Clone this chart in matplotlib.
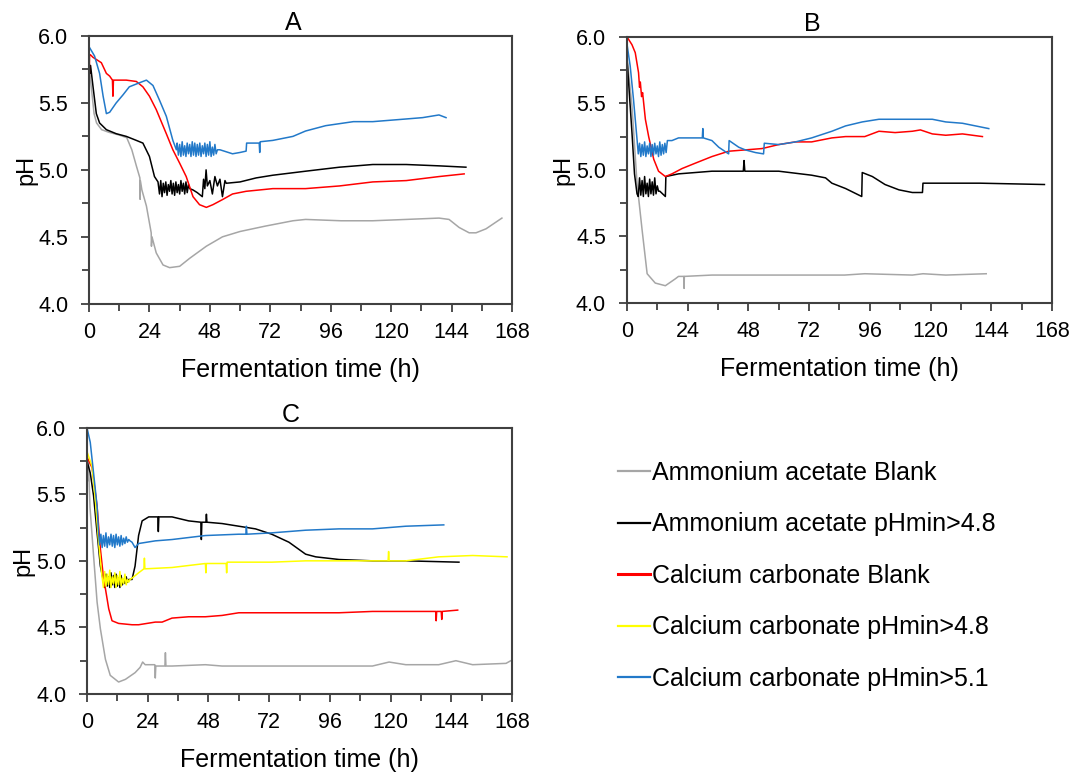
import numpy as np
import matplotlib.pyplot as plt
from matplotlib.lines import Line2D
from matplotlib.ticker import MultipleLocator

plt.rcParams['font.family'] = ['Liberation Sans', 'DejaVu Sans']

labels = ['Ammonium acetate Blank', 'Ammonium acetate pHmin>4.8',
          'Calcium carbonate Blank', 'Calcium carbonate pHmin>4.8',
          'Calcium carbonate pHmin>5.1']
colors = ['#a6a6a6', '#000000', '#ff0000', '#ffff00', '#2279c9']

# ---- A ----
a_gray_t = [0, 1, 2, 3, 5, 8, 12, 15, 17, 18.8, 20.2, 20.3, 20.4, 21, 22.8, 24.7, 24.8, 25, 26.7, 29.4,
            32, 36, 40, 46.6, 53, 60, 70, 81, 86, 100, 112.7, 126, 139, 143, 147, 151, 153.7, 157.7, 164]
a_gray_v = [5.78, 5.6, 5.42, 5.35, 5.30, 5.28, 5.26, 5.24, 5.15, 5.03, 4.94, 4.78, 4.92, 4.85, 4.73, 4.53, 4.43, 4.50, 4.38, 4.29,
            4.27, 4.28, 4.34, 4.43, 4.50, 4.54, 4.58, 4.62, 4.63, 4.62, 4.62, 4.63, 4.64, 4.63, 4.57, 4.53, 4.53, 4.56, 4.64]

a_black_t1 = [0, 0.3, 0.6, 1.6, 2.9, 4.2, 6.9, 10.8, 14.8, 18.8, 21.4, 24, 26, 27.4]
a_black_v1 = [5.80, 5.72, 5.78, 5.62, 5.42, 5.35, 5.30, 5.27, 5.25, 5.22, 5.20, 5.10, 4.95, 4.91]
a_black_n = [4.82, 4.92, 4.80, 4.90, 4.83, 4.91, 4.81, 4.89, 4.84, 4.92, 4.82, 4.90, 4.81, 4.91, 4.83, 4.89,
             4.82, 4.92, 4.84, 4.90, 4.82, 4.91, 4.83, 4.89, 4.86]  # every 0.5 h from 28 h
a_black_t2 = [41.3, 43, 45, 45.5, 46, 46.5, 47, 48, 49, 50, 51, 52, 53, 54, 54.5, 60, 66.4, 73, 86, 99.5,
              112.7, 126, 139, 149.7]
a_black_v2 = [4.85, 4.83, 4.80, 4.93, 4.86, 5.00, 4.88, 4.92, 4.82, 4.95, 4.88, 4.93, 4.80, 4.92, 4.90, 4.91,
              4.94, 4.96, 4.99, 5.02, 5.04, 5.04, 5.03, 5.02]

a_red_t = [0, 0.2, 0.5, 1.6, 4.9, 6.9, 8.2, 9.3, 9.5, 9.7, 14.8, 18.8, 21.4, 24, 26.7, 30.7, 33.3, 36, 38.6, 41.3,
           43.9, 46.6, 49.2, 53.2, 57, 62.4, 73, 86, 99.5, 112.7, 126, 139, 149]
a_red_v = [5.55, 5.85, 5.86, 5.84, 5.80, 5.72, 5.70, 5.67, 5.55, 5.67, 5.67, 5.66, 5.62, 5.55, 5.45, 5.27, 5.15, 5.05, 4.95, 4.80,
           4.74, 4.72, 4.74, 4.78, 4.82, 4.84, 4.86, 4.86, 4.88, 4.91, 4.92, 4.95, 4.97]

a_blue_t1 = [0, 2.2, 4.2, 5.6, 6.9, 8.2, 10.8, 13.5, 16, 20, 22.8, 25.4, 28, 30.7, 33.3, 34.7]
a_blue_v1 = [5.92, 5.85, 5.72, 5.55, 5.42, 5.43, 5.50, 5.56, 5.62, 5.65, 5.67, 5.63, 5.52, 5.40, 5.22, 5.15]
a_blue_n = [5.20, 5.11, 5.19, 5.10, 5.21, 5.11, 5.18, 5.10, 5.20, 5.12, 5.19, 5.10, 5.21, 5.11, 5.20, 5.10,
            5.19, 5.11, 5.20, 5.10, 5.18, 5.12, 5.20, 5.10, 5.19, 5.11, 5.21, 5.10, 5.17, 5.11, 5.19, 5.12, 5.15]  # from 35 h
a_blue_t2 = [52, 57, 60, 62.4, 62.6, 67.6, 67.8, 68, 73, 81, 86, 94, 105, 112.7, 126, 132.5, 139, 141.8]
a_blue_v2 = [5.15, 5.12, 5.13, 5.14, 5.20, 5.20, 5.13, 5.21, 5.22, 5.25, 5.29, 5.33, 5.36, 5.36, 5.38, 5.39, 5.41, 5.39]

# ---- B ----
b_gray_t = [0, 2, 4, 6, 8, 11.2, 15.2, 19, 20.4, 22.5, 22.6, 22.7, 33.6, 60, 86, 94, 112.8, 117, 126, 142]
b_gray_v = [5.85, 5.48, 4.90, 4.55, 4.22, 4.15, 4.13, 4.18, 4.20, 4.20, 4.11, 4.20, 4.21, 4.21, 4.21, 4.22, 4.21, 4.22, 4.21, 4.22]

b_black_t1 = [0, 0.7, 2, 3, 4]
b_black_v1 = [5.85, 5.65, 5.28, 4.97, 4.82]
b_black_n = [4.80, 4.94, 4.81, 4.92, 4.80, 4.95, 4.82, 4.90, 4.80, 4.93, 4.82, 4.91, 4.81, 4.94, 4.82, 4.88, 4.84]  # from 4.5 h
b_black_t2 = [13, 15.2, 15.4, 20.4, 33.6, 46, 46.3, 46.6, 60, 73, 78.5, 81, 86.4, 92.8, 93, 97, 102, 107.5, 112.8, 116.8,
              117, 126, 139.5, 165]
b_black_v2 = [4.84, 4.80, 4.95, 4.97, 4.99, 4.99, 5.07, 4.99, 4.99, 4.96, 4.94, 4.90, 4.86, 4.80, 4.98, 4.95, 4.89, 4.85, 4.83, 4.83,
              4.90, 4.90, 4.90, 4.89]

b_red_t = [0, 2, 3.3, 4.6, 5.0, 5.3, 5.8, 6.2, 7.3, 8.6, 10.6, 12.5, 15.2, 17.8, 21.8, 27, 33.6, 40.2, 46.8, 53.4,
           60, 66.6, 73, 81, 86.4, 94, 99.6, 106, 112.8, 116, 120.7, 126, 132.6, 140.5]
b_red_v = [6.0, 5.94, 5.88, 5.73, 5.62, 5.66, 5.55, 5.58, 5.38, 5.25, 5.08, 4.99, 4.95, 4.97, 5.01, 5.05, 5.10, 5.14, 5.15, 5.16,
           5.19, 5.21, 5.21, 5.24, 5.25, 5.25, 5.29, 5.28, 5.29, 5.30, 5.27, 5.26, 5.27, 5.25]

b_blue_t1 = [0, 1.3, 2.6, 4]
b_blue_v1 = [5.95, 5.78, 5.53, 5.23]
b_blue_n = [5.12, 5.20, 5.10, 5.19, 5.11, 5.21, 5.10, 5.18, 5.12, 5.20, 5.10, 5.19, 5.11, 5.20, 5.12, 5.18,
            5.10, 5.21, 5.11, 5.19, 5.12, 5.20, 5.13, 5.22]  # from 4.5 h
b_blue_t2 = [17.8, 20.4, 27, 29.8, 30, 30.2, 33.6, 36.3, 40.2, 40.4, 44.2, 46.8, 50.8, 54, 54.3, 60, 66.6, 73, 81, 86.4,
             93, 99.6, 112.8, 120.7, 126, 132.6, 143]
b_blue_v2 = [5.22, 5.24, 5.24, 5.24, 5.31, 5.24, 5.22, 5.17, 5.12, 5.22, 5.17, 5.15, 5.13, 5.12, 5.20, 5.19, 5.21, 5.24, 5.29, 5.33,
             5.36, 5.38, 5.38, 5.38, 5.36, 5.35, 5.31]

# ---- C ----
c_gray_t = [0, 0.3, 0.6, 1.2, 2.6, 4, 5.3, 7.3, 9.2, 12.5, 15.2, 19, 21, 22, 23, 26.8, 27, 27.2, 30.8, 31,
            31.2, 33.6, 46.8, 53.4, 73, 99.6, 112.8, 119.4, 126, 139, 145.8, 152.4, 165.6, 167.5]
c_gray_v = [5.95, 5.6, 5.75, 5.40, 5.04, 4.69, 4.49, 4.26, 4.14, 4.09, 4.11, 4.16, 4.20, 4.24, 4.22, 4.22, 4.12, 4.21, 4.21, 4.31,
            4.21, 4.21, 4.22, 4.21, 4.21, 4.21, 4.21, 4.24, 4.22, 4.22, 4.25, 4.22, 4.23, 4.25]

c_black_t1 = [0, 1.3, 2.6, 4, 5.3, 6.6]
c_black_v1 = [5.75, 5.66, 5.49, 5.21, 4.96, 4.84]
c_black_n = [4.80, 4.90, 4.81, 4.88, 4.80, 4.91, 4.82, 4.89, 4.80, 4.90, 4.81, 4.87, 4.80, 4.89, 4.82, 4.86,
             4.83, 4.88, 4.84, 4.86, 4.86]  # from 7 h
c_black_t2 = [17.8, 19, 20.4, 21.8, 24.4, 28, 28.2, 28.4, 33.6, 40.2, 45, 45.2, 45.4, 47, 47.2, 47.4, 53.4, 60, 66.6, 73,
              79.8, 86.4, 90.4, 99.6, 112.8, 126, 147]
c_black_v2 = [4.86, 4.96, 5.19, 5.30, 5.33, 5.33, 5.22, 5.33, 5.33, 5.30, 5.29, 5.16, 5.29, 5.29, 5.35, 5.29, 5.28, 5.26, 5.24, 5.20,
              5.14, 5.05, 5.03, 5.01, 5.00, 5.00, 4.99]

c_red_t = [0, 2, 4, 5.3, 6.6, 7.3, 8.6, 9.9, 12.5, 17.8, 20.4, 27, 29.7, 33.6, 40.2, 46.8, 53.4, 60, 73, 86.4,
           99.6, 112.8, 126, 137.8, 138, 138.2, 140, 140.2, 140.4, 146.5]
c_red_v = [5.78, 5.70, 5.41, 5.09, 4.86, 4.79, 4.64, 4.55, 4.53, 4.52, 4.52, 4.54, 4.54, 4.57, 4.58, 4.58, 4.59, 4.61, 4.61, 4.61,
           4.61, 4.62, 4.62, 4.62, 4.55, 4.62, 4.62, 4.56, 4.62, 4.63]

c_yellow_t1 = [0, 2, 3.3, 4.6, 5.9]
c_yellow_v1 = [5.82, 5.71, 5.46, 5.14, 4.89]
c_yellow_n = [4.80, 4.92, 4.81, 4.90, 4.82, 4.93, 4.80, 4.88, 4.83, 4.91, 4.80, 4.89, 4.82, 4.92, 4.81, 4.87,
              4.83, 4.90, 4.82, 4.86, 4.84, 4.86]  # from 6.5 h
c_yellow_t2 = [17.8, 20.4, 22.5, 22.7, 22.9, 23, 33.6, 46.8, 47, 47.2, 55, 55.2, 55.4, 60, 73, 86.4, 99.6, 112.8, 119, 119.2,
               119.4, 126, 139, 152.4, 166]
c_yellow_v2 = [4.87, 4.91, 4.94, 5.02, 4.94, 4.94, 4.95, 4.98, 4.91, 4.98, 4.98, 4.91, 4.99, 4.99, 4.99, 5.00, 5.00, 5.00, 5.00, 5.07,
               5.00, 5.00, 5.03, 5.04, 5.03]

c_blue_t1 = [0, 1.3, 2.6, 4, 4.6]
c_blue_v1 = [6.0, 5.89, 5.66, 5.41, 5.21]
c_blue_n = [5.12, 5.20, 5.10, 5.19, 5.11, 5.21, 5.10, 5.18, 5.12, 5.20, 5.11, 5.19, 5.10, 5.20, 5.12, 5.18,
            5.11, 5.19, 5.12, 5.17, 5.13, 5.18, 5.14, 5.16, 5.15]  # from 5 h
c_blue_t2 = [17.8, 19, 20.4, 27, 33.6, 46.8, 60, 62.8, 63, 63.2, 73, 86.4, 99.6, 112.8, 126, 141]
c_blue_v2 = [5.14, 5.10, 5.13, 5.15, 5.16, 5.19, 5.20, 5.20, 5.26, 5.20, 5.21, 5.23, 5.24, 5.24, 5.26, 5.27]


def join(t1, v1, t0, noise, t2, v2, step=0.5):
    # probe readings logged every 0.5 h while the controller was dosing
    tn = t0 + step * np.arange(len(noise))
    return np.concatenate([t1, tn, t2]), np.concatenate([v1, noise, v2])


panels = {
    'A': [(a_gray_t, a_gray_v, 0),
          join(a_black_t1, a_black_v1, 28.0, a_black_n, a_black_t2, a_black_v2) + (1,),
          (a_red_t, a_red_v, 2),
          join(a_blue_t1, a_blue_v1, 35.0, a_blue_n, a_blue_t2, a_blue_v2) + (4,)],
    'B': [(b_gray_t, b_gray_v, 0),
          join(b_black_t1, b_black_v1, 4.5, b_black_n, b_black_t2, b_black_v2) + (1,),
          (b_red_t, b_red_v, 2),
          join(b_blue_t1, b_blue_v1, 4.5, b_blue_n, b_blue_t2, b_blue_v2) + (4,)],
    'C': [(c_gray_t, c_gray_v, 0),
          join(c_black_t1, c_black_v1, 7.0, c_black_n, c_black_t2, c_black_v2) + (1,),
          (c_red_t, c_red_v, 2),
          join(c_yellow_t1, c_yellow_v1, 6.5, c_yellow_n, c_yellow_t2, c_yellow_v2) + (3,),
          join(c_blue_t1, c_blue_v1, 5.0, c_blue_n, c_blue_t2, c_blue_v2) + (4,)],
}

# axes boxes in figure fractions, title x position
layout = {
    'A': ([0.0825, 0.611, 0.392, 0.343], 0.482),
    'B': ([0.581, 0.612, 0.394, 0.341], 0.435),
    'C': ([0.0806, 0.1114, 0.394, 0.341], 0.48),
}

fig = plt.figure(figsize=(10.79, 7.81), dpi=100)
edge = '#404040'

for name, series in panels.items():
    rect, tx = layout[name]
    ax = fig.add_axes(rect)
    for t, v, k in series:
        ax.plot(t, v, color=colors[k], lw=1.1)
    ax.set_xlim(0, 168)
    ax.set_ylim(4.0, 6.0)
    ax.xaxis.set_major_locator(MultipleLocator(24))
    ax.xaxis.set_minor_locator(MultipleLocator(12))
    ax.yaxis.set_major_locator(MultipleLocator(0.5))
    ax.yaxis.set_minor_locator(MultipleLocator(0.25))
    ax.yaxis.set_major_formatter('{x:.1f}')
    ax.tick_params(which='both', direction='out', color=edge, width=1.3, labelsize=15.5)
    ax.tick_params(which='major', length=6)
    ax.tick_params(which='minor', length=5)
    ax.tick_params(axis='x', pad=7)
    ax.tick_params(axis='y', pad=9)
    for s in ax.spines.values():
        s.set_color(edge)
        s.set_linewidth(1.5)
    ax.set_xlabel('Fermentation time (h)', fontsize=18, labelpad=11)
    ax.set_ylabel('pH', fontsize=17)
    ax.yaxis.set_label_coords(-0.123, 0.5)
    ax.set_title(name, fontsize=18, x=tx, pad=4)

handles = [Line2D([], [], color=c, lw=2.2 if i == 2 else 1.6) for i, c in enumerate(colors)]
fig.legend(handles, labels, loc='upper left', bbox_to_anchor=(0.5727, 0.41),
           frameon=False, fontsize=18, handlelength=1.28, handletextpad=0.1,
           labelspacing=1.1, borderpad=0, borderaxespad=0)

fig.savefig('out.png', dpi=100)
